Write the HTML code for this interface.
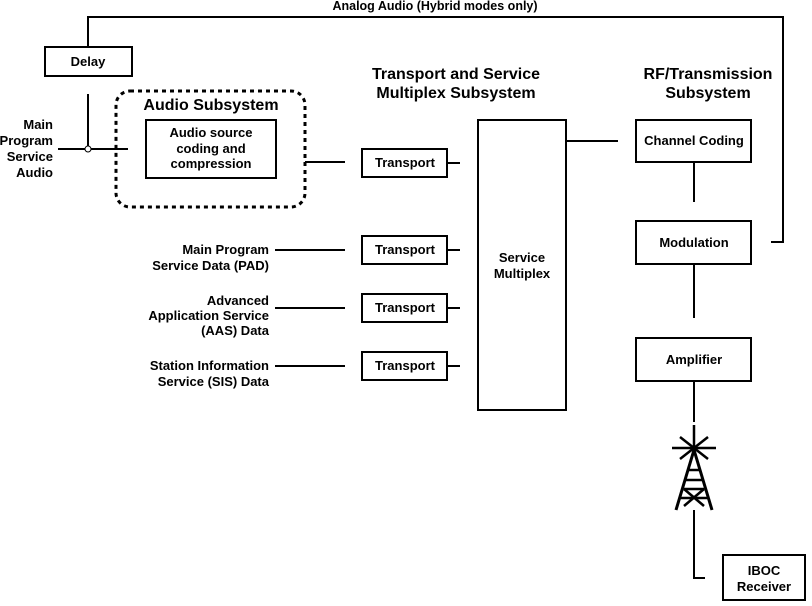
<!DOCTYPE html>
<html><head><style>
body{margin:0;background:#fff;width:812px;height:601px;overflow:hidden}
svg text{font-family:"Liberation Sans",Arial,sans-serif;font-weight:bold;fill:#000}
</style></head><body>
<svg width="812" height="601" viewBox="0 0 812 601" xmlns="http://www.w3.org/2000/svg">
<g fill="none" stroke="#000" stroke-width="2">
<polyline points="88,47 88,17 783,17 783,242 771,242"/>
<rect x="45" y="47" width="87" height="29"/>
<line x1="88" y1="94" x2="88" y2="146"/>
<line x1="58" y1="149" x2="85" y2="149"/>
<line x1="91" y1="149" x2="128" y2="149"/>
<rect x="116" y="91" width="189" height="116" rx="14" stroke-width="3" stroke-dasharray="4,4"/>
<rect x="146" y="120" width="130" height="58"/>
<line x1="305" y1="162" x2="345" y2="162"/>
<rect x="362" y="149" width="85" height="28"/>
<rect x="362" y="236" width="85" height="28"/>
<rect x="362" y="294" width="85" height="28"/>
<rect x="362" y="352" width="85" height="28"/>
<line x1="447" y1="163" x2="460" y2="163"/>
<line x1="447" y1="250" x2="460" y2="250"/>
<line x1="447" y1="308" x2="460" y2="308"/>
<line x1="447" y1="366" x2="460" y2="366"/>
<line x1="275" y1="250" x2="345" y2="250"/>
<line x1="275" y1="308" x2="345" y2="308"/>
<line x1="275" y1="366" x2="345" y2="366"/>
<rect x="478" y="120" width="88" height="290"/>
<line x1="566" y1="141" x2="618" y2="141"/>
<rect x="636" y="120" width="115" height="42"/>
<line x1="694" y1="162" x2="694" y2="202"/>
<rect x="636" y="221" width="115" height="43"/>
<line x1="694" y1="264" x2="694" y2="318"/>
<rect x="636" y="338" width="115" height="43"/>
<line x1="694" y1="381" x2="694" y2="422"/>
<polyline points="694,510 694,578 705,578"/>
<rect x="723" y="555" width="82" height="45"/>
</g>
<circle cx="88" cy="149" r="3" fill="#fff" stroke="#000" stroke-width="1"/>
<g stroke="#000" stroke-width="2.5" fill="none">
<line x1="694" y1="425" x2="694" y2="452"/>
<line x1="672" y1="448" x2="716" y2="448"/>
<line x1="680" y1="437" x2="708" y2="459"/>
<line x1="708" y1="437" x2="680" y2="459"/>
<polyline points="676,510 694,450 712,510" stroke-width="3"/>
<line x1="688" y1="470" x2="700" y2="470"/>
<line x1="686" y1="480" x2="702" y2="480"/>
<line x1="684" y1="489" x2="704" y2="489"/>
<line x1="680" y1="498" x2="708" y2="498"/>
<line x1="684" y1="489" x2="704" y2="506"/>
<line x1="704" y1="489" x2="684" y2="506"/>
</g>
<g font-size="13" text-anchor="middle">
<text x="435" y="10" font-size="12.5">Analog Audio (Hybrid modes only)</text>
<text x="88" y="66">Delay</text>
<text x="211" y="110" font-size="16">Audio Subsystem</text>
<text x="211" y="137">Audio source</text>
<text x="211" y="153">coding and</text>
<text x="211" y="168">compression</text>
<text x="456" y="79" font-size="16">Transport and Service</text>
<text x="456" y="98" font-size="16">Multiplex Subsystem</text>
<text x="708" y="79" font-size="16">RF/Transmission</text>
<text x="708" y="98" font-size="16">Subsystem</text>
<text x="405" y="167">Transport</text>
<text x="405" y="254">Transport</text>
<text x="405" y="312">Transport</text>
<text x="405" y="370">Transport</text>
<text x="522" y="262">Service</text>
<text x="522" y="278">Multiplex</text>
<text x="694" y="145">Channel Coding</text>
<text x="694" y="247">Modulation</text>
<text x="694" y="364">Amplifier</text>
<text x="764" y="575">IBOC</text>
<text x="764" y="591">Receiver</text>
</g>
<g font-size="13" text-anchor="end">
<text x="53" y="129">Main</text>
<text x="53" y="145">Program</text>
<text x="53" y="161">Service</text>
<text x="53" y="177">Audio</text>
<text x="269" y="254">Main Program</text>
<text x="269" y="270">Service Data (PAD)</text>
<text x="269" y="305">Advanced</text>
<text x="269" y="320">Application Service</text>
<text x="269" y="335">(AAS) Data</text>
<text x="269" y="370">Station Information</text>
<text x="269" y="386">Service (SIS) Data</text>
</g>
</svg>
</body></html>
